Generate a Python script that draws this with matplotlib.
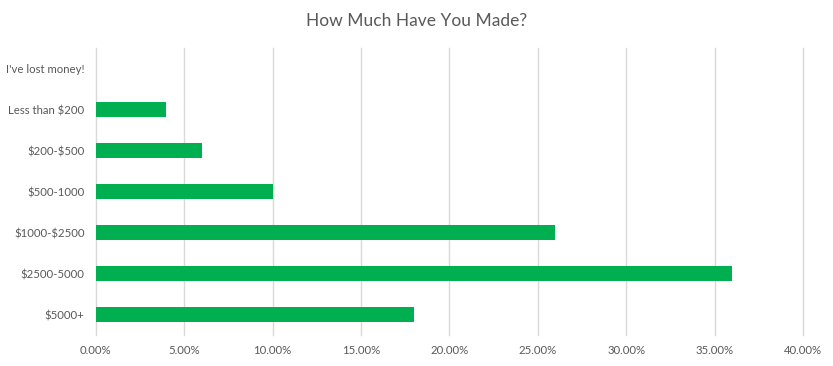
import matplotlib.pyplot as plt
from matplotlib.ticker import FuncFormatter

categories = ["I've lost money!", "Less than $200", "$200-$500", "$500-1000",
              "$1000-$2500", "$2500-5000", "$5000+"]
shares = [0.0, 0.04, 0.06, 0.10, 0.26, 0.36, 0.18]

plt.rcParams['font.family'] = ['Lato', 'DejaVu Sans']
plt.rcParams['text.parse_math'] = False

fig = plt.figure(figsize=(8.33, 3.66), dpi=100)
ax = fig.add_axes([0.1149, 0.0847, 0.849, 0.784])

pos = list(range(len(categories)))
ax.barh(pos, shares, height=0.366, color='#00b050', zorder=3)
ax.set_yticks(pos)
ax.set_yticklabels(categories)
ax.set_ylim(len(categories) - 0.5, -0.5)

ax.set_xlim(0, 0.4)
ax.set_xticks([i * 0.05 for i in range(9)])
ax.xaxis.set_major_formatter(FuncFormatter(lambda v, p: f"{v*100:.2f}%"))
ax.grid(axis='x', color='#d9d9d9', linewidth=1, zorder=0)
for gl in ax.get_xgridlines():
    gl.set_clip_on(False)

for s in ax.spines.values():
    s.set_visible(False)
ax.tick_params(length=0, labelsize=8.2, colors='#595959', pad=8)
ax.tick_params(axis='x', pad=7)

fig.suptitle("How Much Have You Made?", fontsize=12.5, color='#595959', y=0.965)

fig.savefig("out.png", dpi=100)
